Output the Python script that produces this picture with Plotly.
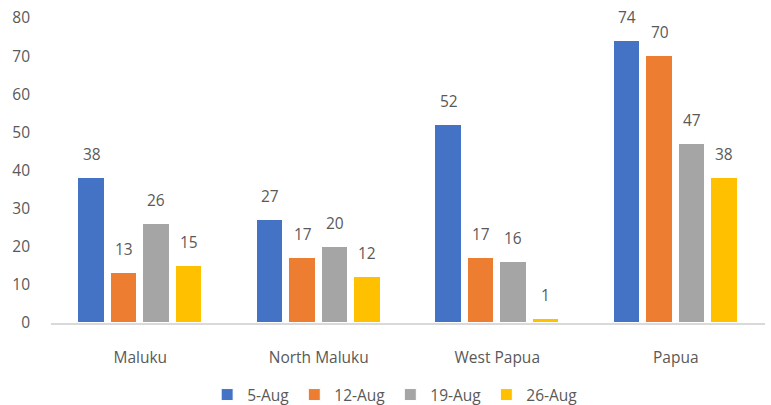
import numpy as np
import plotly.graph_objects as go

provinces = ["Maluku", "North Maluku", "West Papua", "Papua"]
weeks = ["5-Aug", "12-Aug", "19-Aug", "26-Aug"]
cases_5aug = [38, 27, 52, 74]
cases_12aug = [13, 17, 17, 70]
cases_19aug = [26, 20, 16, 47]
cases_26aug = [15, 12, 1, 38]
series = [cases_5aug, cases_12aug, cases_19aug, cases_26aug]
colors = ["#4472C4", "#ED7D31", "#A5A5A5", "#FFC000"]

TEXT = "#595959"
FONT = "Open Sans"
SIZE = 15.5

slot = 0.182     # horizontal pitch between bars of one group
bar_w = 0.146    # bar width
xs = np.arange(len(provinces))

fig = go.Figure()
annotations = []
for k, (name, vals, col) in enumerate(zip(weeks, series, colors)):
    off = (k - 1.5) * slot
    bx = xs + off
    fig.add_trace(go.Bar(
        x=bx, y=vals, width=bar_w, name=name,
        marker=dict(color=col, line=dict(color="white", width=1)),
        hoverinfo="y",
    ))
    for x, v in zip(bx, vals):
        annotations.append(dict(
            x=x, y=v, xref="x", yref="y", text=str(v), showarrow=False,
            yanchor="bottom", yshift=11,
            font=dict(family=FONT, size=SIZE, color=TEXT),
        ))

fig.update_layout(
    width=771, height=405,
    margin=dict(l=51, r=6, t=18, b=82, autoexpand=False),
    paper_bgcolor="white", plot_bgcolor="white",
    font=dict(family=FONT, size=SIZE, color=TEXT),
    showlegend=True,
    legend=dict(orientation="h", x=0.482, xanchor="center", y=-0.236,
                yanchor="middle", font=dict(family=FONT, size=SIZE, color=TEXT),
                itemwidth=30, traceorder="normal"),
    annotations=annotations,
    bargap=0,
)
fig.update_xaxes(
    range=[-0.5, 3.5], tickvals=xs, ticktext=provinces,
    showgrid=False, zeroline=False, showline=True,
    linecolor="#D9D9D9", linewidth=1.5, ticks="",
    ticklabelstandoff=20,
    tickfont=dict(family=FONT, size=SIZE, color=TEXT),
)
fig.update_yaxes(
    range=[0, 80], dtick=10, showgrid=False, zeroline=False,
    showline=False, ticks="", ticklabelstandoff=20,
    tickfont=dict(family=FONT, size=SIZE, color=TEXT),
)

fig.write_html("out.html")
